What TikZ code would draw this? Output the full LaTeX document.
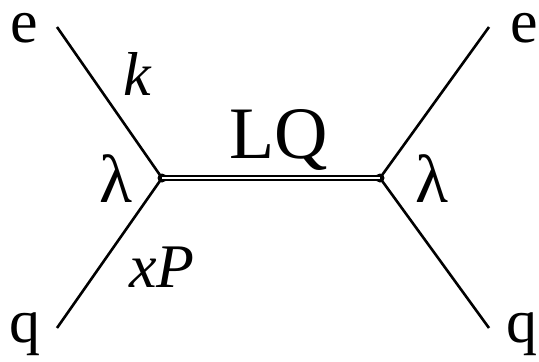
\documentclass[tikz,border=0pt]{standalone}
\usepackage{fontspec}
\setmainfont{Liberation Serif}
\begin{document}
\begin{tikzpicture}[x=1pt,y=-1pt,
  lbl/.style={inner sep=0pt,anchor=base,font=\fontsize{62}{70}\selectfont},
  leg/.style={line width=2.6pt},
  vtx/.style={circle,fill=black,inner sep=0pt,minimum size=9pt}]
\useasboundingbox (0,0) rectangle (539,362);
\node[vtx] (v1) at (162,178) {};
\node[vtx] (v2) at (380,178) {};
\coordinate (a1) at (57,27);
\coordinate (a2) at (57,328);
\coordinate (b1) at (489,27);
\coordinate (b2) at (489,328);
\draw[leg] (a1) -- (v1.center) -- (a2);
\draw[leg] (b1) -- (v2.center) -- (b2);
\draw[line width=2.3pt,double,double distance=2.2pt] (v1.center) -- (v2.center);
\node[lbl,text height=29pt] (e1) at (24.5,42) {e};
\node[lbl] (q1) at (25,342) {q};
\node[lbl,text height=29pt] (e2) at (524.5,42) {e};
\node[lbl] (q2) at (522,342) {q};
\node[lbl] (k) at (137.5,95) {\textit{k}};
\node[lbl,font=\fontsize{68}{70}\selectfont] (l1) at (116,202) {λ};
\node[lbl,font=\fontsize{68}{70}\selectfont] (l2) at (432,202) {λ};
\node[lbl,font=\fontsize{74}{80}\selectfont] (lq) at (279,158) {LQ};
\node[lbl,font=\fontsize{62}{66}\selectfont] (xp) at (162,287) {\textit{xP}};
\end{tikzpicture}
\end{document}
